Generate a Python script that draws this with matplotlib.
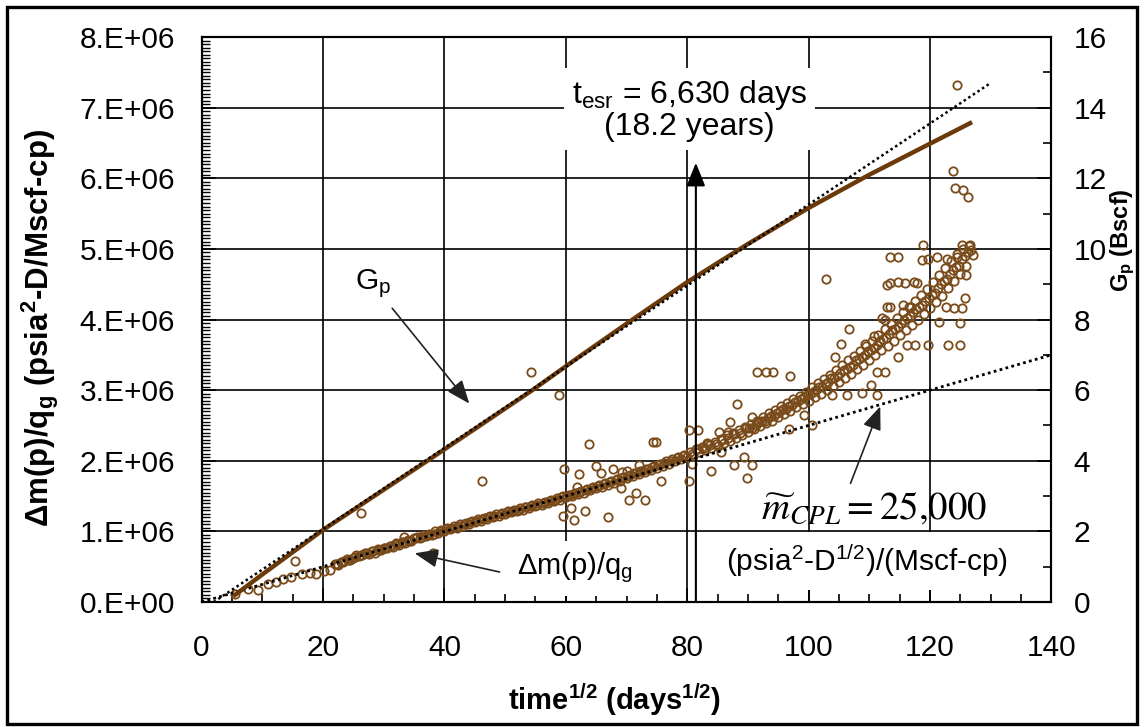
import numpy as np
import matplotlib
matplotlib.use('Agg')
import matplotlib.pyplot as plt
from matplotlib.patches import Rectangle
from matplotlib.ticker import MultipleLocator, FuncFormatter

plt.rcParams['font.family'] = ['Liberation Sans', 'DejaVu Sans']
plt.rcParams['mathtext.fontset'] = 'custom'
plt.rcParams['mathtext.rm'] = 'Liberation Sans'
plt.rcParams['mathtext.it'] = 'Liberation Sans:italic'
plt.rcParams['mathtext.bf'] = 'Liberation Sans:bold'

# Delta m(p)/q_g data, y in units of 1e6 psia2-D/Mscf-cp
dm_early_x = [5.5, 7.7, 9.3, 11.0, 12.3, 13.4, 14.8, 16.5, 17.8, 18.9, 20.2, 21.1]
dm_early_y = [0.12, 0.19, 0.17, 0.26, 0.29, 0.32, 0.36, 0.40, 0.415, 0.40, 0.44, 0.45]

dm_mid_x = [22, 22.5, 23, 23.5, 24, 24.5, 25, 25.5, 26, 26.5,
            27, 27.5, 28, 28.5, 29, 29.5, 30, 30.5, 31, 31.5,
            32, 32.5, 33, 33.5, 34, 34.5, 35, 35.5, 36, 36.5,
            37, 37.5, 38, 38.5, 39, 39.5, 40, 40.5, 41, 41.5,
            42, 42.5, 43, 43.5, 44, 44.5, 45, 45.5, 46, 46.5,
            47, 47.5, 48, 48.5, 49, 49.5, 50, 50.5, 51, 51.5,
            52, 52.5, 53, 53.5, 54, 54.5, 55, 55.5, 56, 56.5,
            57, 57.5, 58, 58.5, 59, 59.5, 60, 60.5, 61, 61.5,
            62, 62.5, 63, 63.5, 64, 64.5, 65, 65.5, 66, 66.5,
            67, 67.5, 68, 68.5, 69, 69.5, 70, 70.5, 71, 71.5,
            72, 72.5, 73, 73.5, 74, 74.5, 75, 75.5, 76, 76.5,
            77, 77.5, 78, 78.5, 79, 79.5, 80]
dm_mid_y = [.54, .52, .57, .58, .61, .60, .62, .66, .65, .66,
            .70, .68, .72, .70, .75, .74, .77, .76, .80, .78,
            .83, .81, .85, .84, .88, .86, .90, .92, .90, .95,
            .93, .97, .95, 1.00, .98, 1.02, 1.01, 1.05, 1.03, 1.07,
            1.05, 1.10, 1.08, 1.12, 1.10, 1.15, 1.13, 1.17, 1.15, 1.19,
            1.17, 1.22, 1.20, 1.24, 1.22, 1.26, 1.25, 1.29, 1.27, 1.31,
            1.29, 1.33, 1.31, 1.35, 1.33, 1.38, 1.36, 1.40, 1.38, 1.42,
            1.40, 1.45, 1.43, 1.47, 1.45, 1.50, 1.48, 1.52, 1.50, 1.55,
            1.53, 1.57, 1.55, 1.60, 1.58, 1.63, 1.61, 1.65, 1.63, 1.68,
            1.66, 1.71, 1.69, 1.74, 1.72, 1.77, 1.75, 1.80, 1.78, 1.83,
            1.81, 1.86, 1.84, 1.89, 1.87, 1.92, 1.90, 1.95, 1.93, 1.99,
            1.96, 2.02, 1.99, 2.05, 2.03, 2.08, 2.06]

dm_mid2_x = [22.25, 23.25, 24.25, 25.25, 26.25, 27.25, 28.25, 29.25, 30.25, 31.25,
             32.25, 33.25, 34.25, 35.25, 36.25, 37.25, 38.25, 39.25, 40.25, 41.25,
             42.25, 43.25, 44.25, 45.25, 46.25, 47.25, 48.25, 49.25, 50.25, 51.25,
             52.25, 53.25, 54.25, 55.25, 56.25, 57.25, 58.25, 59.25, 60.25, 61.25,
             62.25, 63.25, 64.25, 65.25, 66.25, 67.25, 68.25, 69.25, 70.25, 71.25,
             72.25, 73.25, 74.25, 75.25, 76.25, 77.25, 78.25, 79.25]
dm_mid2_y = [.54, .57, .60, .64, .66, .69, .72, .74, .77, .79,
             .82, .85, .87, .90, .92, .95, .97, 1.00, 1.03, 1.05,
             1.08, 1.10, 1.13, 1.15, 1.18, 1.20, 1.22, 1.25, 1.27, 1.29,
             1.31, 1.34, 1.36, 1.38, 1.40, 1.43, 1.45, 1.48, 1.50, 1.53,
             1.56, 1.58, 1.61, 1.64, 1.67, 1.70, 1.73, 1.76, 1.79, 1.82,
             1.85, 1.88, 1.91, 1.94, 1.97, 2.00, 2.04, 2.07]

dm_late_x = [80.5, 81, 81.5, 82, 82.5, 83, 83.5, 84, 84.5, 85,
             85.5, 86, 86.5, 87, 87.5, 88, 88.5, 89, 89.5, 90,
             90.5, 91, 91.5, 92, 92.5, 93, 93.5, 94, 94.5, 95,
             95.5, 96, 96.5, 97, 97.5, 98, 98.5, 99, 99.5, 100,
             100.5, 101, 101.5, 102, 102.5, 103, 103.5, 104, 104.5, 105,
             105.5, 106, 106.5, 107, 107.5, 108, 108.5, 109, 109.5, 110,
             110.5, 111, 111.5, 112, 112.5, 113, 113.5, 114, 114.5, 115,
             115.5, 116, 116.5, 117, 117.5, 118, 118.5, 119, 119.5, 120,
             120.5, 121, 121.5, 122, 122.5, 123, 123.5, 124, 124.5, 125,
             125.5, 126, 126.5, 127]
dm_late_y = [2.13, 2.07, 2.17, 2.12, 2.20, 2.15, 2.24, 2.18, 2.27, 2.21,
             2.31, 2.25, 2.36, 2.28, 2.40, 2.32, 2.44, 2.36, 2.48, 2.41,
             2.52, 2.45, 2.57, 2.49, 2.62, 2.53, 2.67, 2.57, 2.72, 2.62,
             2.77, 2.66, 2.82, 2.71, 2.87, 2.76, 2.92, 2.80, 2.97, 2.85,
             3.04, 2.90, 3.10, 2.95, 3.16, 3.00, 3.22, 3.06, 3.28, 3.12,
             3.35, 3.17, 3.42, 3.23, 3.48, 3.30, 3.56, 3.36, 3.62, 3.43,
             3.70, 3.50, 3.78, 3.57, 3.86, 3.63, 3.94, 3.70, 4.02, 3.78,
             4.10, 3.85, 4.18, 3.92, 4.26, 4.00, 4.35, 4.08, 4.43, 4.16,
             4.53, 4.25, 4.63, 4.34, 4.73, 4.44, 4.83, 4.54, 4.93, 4.64,
             5.00, 4.76, 5.04, 4.92]

dm_late2_x = [90.25, 91.25, 92.25, 93.25, 94.25, 95.25, 96.25, 97.25, 98.25, 99.25,
              100.25, 101.25, 102.25, 103.25, 104.25, 105.25, 106.25, 107.25, 108.25, 109.25,
              110.25, 111.25, 112.25, 113.25, 114.25, 115.25, 116.25, 117.25, 118.25, 119.25,
              120.25, 121.25, 122.25, 123.25, 124.25, 125.25, 126.25]
dm_late2_y = [2.46, 2.50, 2.56, 2.60, 2.64, 2.70, 2.74, 2.79, 2.84, 2.90,
              2.95, 3.00, 3.05, 3.12, 3.17, 3.24, 3.30, 3.36, 3.44, 3.50,
              3.57, 3.64, 3.72, 3.79, 3.86, 3.95, 4.02, 4.10, 4.18, 4.26,
              4.35, 4.45, 4.55, 4.65, 4.75, 4.85, 4.95]

dm_late3_x = [80.75, 81.75, 82.75, 83.75, 84.75, 85.75, 86.75, 87.75, 88.75, 89.75,
              90.75, 91.75, 92.75, 93.75, 94.75, 95.75, 96.75, 97.75, 98.75, 99.75,
              100.75, 101.75, 102.75, 103.75, 104.75, 105.75, 106.75, 107.75, 108.75, 109.75,
              110.75, 111.75, 112.75, 113.75, 114.75, 115.75, 116.75, 117.75, 118.75, 119.75,
              120.75, 121.75, 122.75, 123.75, 124.75, 125.75, 126.75]
dm_late3_y = [2.10, 2.16, 2.18, 2.23, 2.24, 2.30, 2.32, 2.38, 2.40, 2.46,
              2.47, 2.55, 2.57, 2.64, 2.67, 2.74, 2.77, 2.83, 2.87, 2.93,
              2.97, 3.05, 3.08, 3.17, 3.20, 3.29, 3.33, 3.42, 3.47, 3.55,
              3.60, 3.70, 3.74, 3.85, 3.89, 4.00, 4.05, 4.15, 4.21, 4.31,
              4.38, 4.50, 4.57, 4.70, 4.76, 4.90, 4.98]

dm_out_x = [15.4, 26.3, 33.4, 38.1, 46.2, 54.3, 58.8, 59.7, 62.2, 63.9,
            65.0, 65.8, 67.7, 69.3, 70.0, 72.1, 61.9, 69.1, 70.4, 71.5,
            73.1, 74.4, 74.8, 75.6, 59.5, 60.8, 61.3, 63.1, 66.9, 80.3,
            81.7, 80.3, 80.8, 83.3, 85.5, 85.2, 86.8, 87.7, 89.3, 90.7,
            89.9, 88.2, 90.7, 96.7, 99.2, 100.6, 91.5, 93.0, 94.1, 97.0,
            102.9, 104.4, 105.4, 106.6, 103.9, 106.3, 108.8, 110.2, 111.2, 109.3,
            110.7, 111.2, 112.6, 112.9, 112.9, 112.6, 113.4, 114.8, 118.8, 118.6,
            119.6, 121.2, 122.8, 124.4, 125.2, 126.6, 113.4, 114.8, 115.9, 117.3,
            117.8, 126.0, 113.4, 115.6, 116.8, 122.7, 124.0, 125.2, 125.8, 125.0,
            121.4, 112.1, 114.8, 116.2, 117.6, 119.6, 122.9, 125.0, 124.4, 123.7,
            124.1, 125.5, 126.3, 84.0, 87.0]
dm_out_y = [0.585, 1.26, 0.92, 0.70, 1.72, 3.25, 2.93, 1.88, 1.81, 2.24,
            1.93, 1.82, 1.88, 1.84, 1.85, 1.94, 1.63, 1.61, 1.45, 1.54,
            1.45, 2.26, 2.26, 1.72, 1.22, 1.33, 1.16, 1.29, 1.21, 2.44,
            2.44, 1.72, 1.96, 2.25, 2.13, 2.41, 2.41, 1.94, 2.06, 1.94,
            1.75, 2.80, 2.62, 2.45, 2.65, 2.51, 3.25, 3.25, 3.25, 3.20,
            4.57, 3.47, 3.65, 3.86, 2.93, 2.93, 2.96, 3.07, 2.93, 3.66,
            3.76, 3.25, 3.25, 4.49, 4.18, 3.99, 4.88, 4.88, 5.06, 4.84,
            4.86, 4.88, 4.86, 4.88, 5.06, 5.06, 4.51, 4.53, 4.51, 4.53,
            4.51, 4.63, 4.18, 4.20, 4.18, 4.18, 4.16, 4.16, 4.30, 3.95,
            3.97, 4.02, 3.47, 3.64, 3.64, 3.64, 3.64, 3.64, 7.32, 6.10,
            5.86, 5.84, 5.73, 1.85, 2.55]

# cumulative production Gp (Bscf, right axis)
gp_x = [5.5, 10, 20, 30, 37.2, 45, 54.5, 62, 71, 80, 90, 100, 110, 120, 126.6]
gp_y = [0.2, 0.78, 2.04, 3.18, 4.0, 4.9, 6.0, 6.92, 8.0, 9.06, 10.14, 11.16, 12.1, 12.98, 13.56]

# straight-line fits (dotted)
gp_fit_x = [2, 130]
gp_fit_y = [0, 14.7]
dm_fit_x = [0, 140]
dm_fit_y = [0, 3.5]   # slope 25,000

t_esr = 6630  # days

BROWN = '#7a4b1a'
GP_BROWN = '#6b3a0b'

fig = plt.figure(figsize=(11.44, 7.27), dpi=100)
ax = fig.add_axes([0.1762, 0.1719, 0.7429, 0.7772])
ax2 = ax.twinx()

# scatter of Delta m(p)/q_g
series = [(dm_early_x, dm_early_y), (dm_mid_x, dm_mid_y), (dm_mid2_x, dm_mid2_y),
          (dm_late_x, dm_late_y), (dm_late2_x, dm_late2_y), (dm_late3_x, dm_late3_y),
          (dm_out_x, dm_out_y)]
for xs, ys in series:
    ax.plot(xs, np.array(ys) * 1e6, 'o', mfc='none', mec=BROWN, ms=6, mew=1.3, zorder=2)
ax.plot(dm_fit_x, np.array(dm_fit_y) * 1e6, color='black', lw=2, ls=(0, (1, 1.2)), zorder=3)

ax2.plot(gp_x, gp_y, color=GP_BROWN, lw=3.2, zorder=2)
ax2.plot(gp_fit_x, gp_fit_y, color='black', lw=1.8, ls=(0, (1, 1.2)), zorder=3)

# axes setup
ax.set_xlim(0, 140)
ax.set_ylim(0, 8e6)
ax2.set_ylim(0, 16)
ax.xaxis.set_major_locator(MultipleLocator(20))
ax.xaxis.set_minor_locator(MultipleLocator(5))
ax.yaxis.set_major_locator(MultipleLocator(1e6))
ax.yaxis.set_minor_locator(MultipleLocator(5e4))
ax2.yaxis.set_major_locator(MultipleLocator(2))
ax2.yaxis.set_minor_locator(MultipleLocator(1))
ax.yaxis.set_major_formatter(FuncFormatter(
    lambda v, p: '0.E+00' if v < 1 else f'{int(round(v / 1e6))}.E+06'))

ax.grid(which='major', color='black', lw=1.2)
ax.set_axisbelow(True)
ax.tick_params(which='both', direction='in', labelsize=21.5, top=False, right=False)
ax.tick_params(axis='y', which='major', length=10, width=1.2, pad=19)
ax.tick_params(axis='y', which='minor', length=5.5, width=1)
ax.tick_params(axis='x', which='major', length=10, width=1.2, pad=23)
ax.tick_params(axis='x', which='minor', length=6, width=1.2)
ax2.tick_params(which='both', direction='in', labelsize=21.5, pad=16)
ax2.tick_params(which='major', length=10, width=1.2)
ax2.tick_params(which='minor', length=6, width=1.2)
for a in (ax, ax2):
    for s in a.spines.values():
        s.set_linewidth(1.5)

ax.set_xlabel(r'time$^{\mathbf{1/2}}$ (days$^{\mathbf{1/2}}$)', fontsize=21, fontweight='bold')
ax.xaxis.set_label_coords(0.486, -0.173)
ax.xaxis.label.set_va('center')
ax.set_ylabel(r'Δm(p)/q$_{\mathbf{g}}$ (psia$^{\mathbf{2}}$-D/Mscf-cp)', fontsize=22.5, fontweight='bold')
ax.yaxis.set_label_coords(-0.19, 0.485)
ax.yaxis.label.set_va('center')
ax2.set_ylabel(r'G$_{\mathbf{p}}$ (Bscf)', fontsize=17, fontweight='bold', rotation=90)
ax2.yaxis.set_label_coords(1.0845, 0.641)
ax2.yaxis.label.set_va('center')

# annotations (placed on ax2 so they sit above everything, in left-axis data coords)
tr = ax.transData
box = dict(boxstyle='square,pad=0.35', fc='white', ec='none')
head = '-|>,head_length=0.55,head_width=0.22'

ax2.text(28.3, 4.51e6, r'G$_{\rm p}$', transform=tr, fontsize=21.5,
         ha='center', va='center', bbox=box, zorder=6)
ax2.annotate('', xy=(44.1, 2.81e6), xycoords=tr, xytext=(31.4, 4.16e6), textcoords=tr,
             arrowprops=dict(arrowstyle=head, color='#222222', lw=1.2, mutation_scale=26,
                             shrinkA=0, shrinkB=0), zorder=6)

ax2.text(80.4, 6.96e6, 't$_{\\rm esr}$ = 6,630 days\n(18.2 years)', transform=tr,
         fontsize=23, ha='center', va='center', linespacing=1.0,
         bbox=dict(boxstyle='square,pad=0.25', fc='white', ec='none'), zorder=6)
ax2.annotate('', xy=(np.sqrt(t_esr), 6.22e6), xycoords=tr, xytext=(np.sqrt(t_esr), 0),
             textcoords=tr,
             arrowprops=dict(arrowstyle=head, color='black', lw=1.5, mutation_scale=26,
                             shrinkA=0, shrinkB=0), zorder=6)

ax2.text(61.5, 0.48e6, r'Δm(p)/q$_{\rm g}$', transform=tr, fontsize=21,
         ha='center', va='center',
         bbox=dict(boxstyle='square,pad=0.35', fc='white', ec='none'), zorder=6)
ax2.annotate('', xy=(35.1, 0.69e6), xycoords=tr, xytext=(49.1, 0.425e6), textcoords=tr,
             arrowprops=dict(arrowstyle=head, color='#222222', lw=1.2, mutation_scale=26,
                             shrinkA=0, shrinkB=0), zorder=6)

ax2.text(109.6, 0.58e6, r'(psia$^{2}$-D$^{1/2}$)/(Mscf-cp)', transform=tr, fontsize=21.5,
         ha='center', va='center',
         bbox=dict(boxstyle='square,pad=0.35', fc='white', ec='none'), zorder=6)
ax2.text(110.7, 1.33e6, r'$\widetilde{m}_{CPL} = 25{,}000$', transform=tr, fontsize=28,
         ha='center', va='center', math_fontfamily='stix', zorder=7)
ax2.annotate('', xy=(111.8, 2.77e6), xycoords=tr, xytext=(106.9, 1.68e6), textcoords=tr,
             arrowprops=dict(arrowstyle=head, color='#222222', lw=1.2, mutation_scale=26,
                             shrinkA=0, shrinkB=0), zorder=6)

# outer frame
fig.add_artist(Rectangle((7 / 1144, 3 / 727), 1130 / 1144, 717 / 727,
                         transform=fig.transFigure, fill=False, ec='black', lw=2.4))

fig.savefig('out.png', dpi=100)
